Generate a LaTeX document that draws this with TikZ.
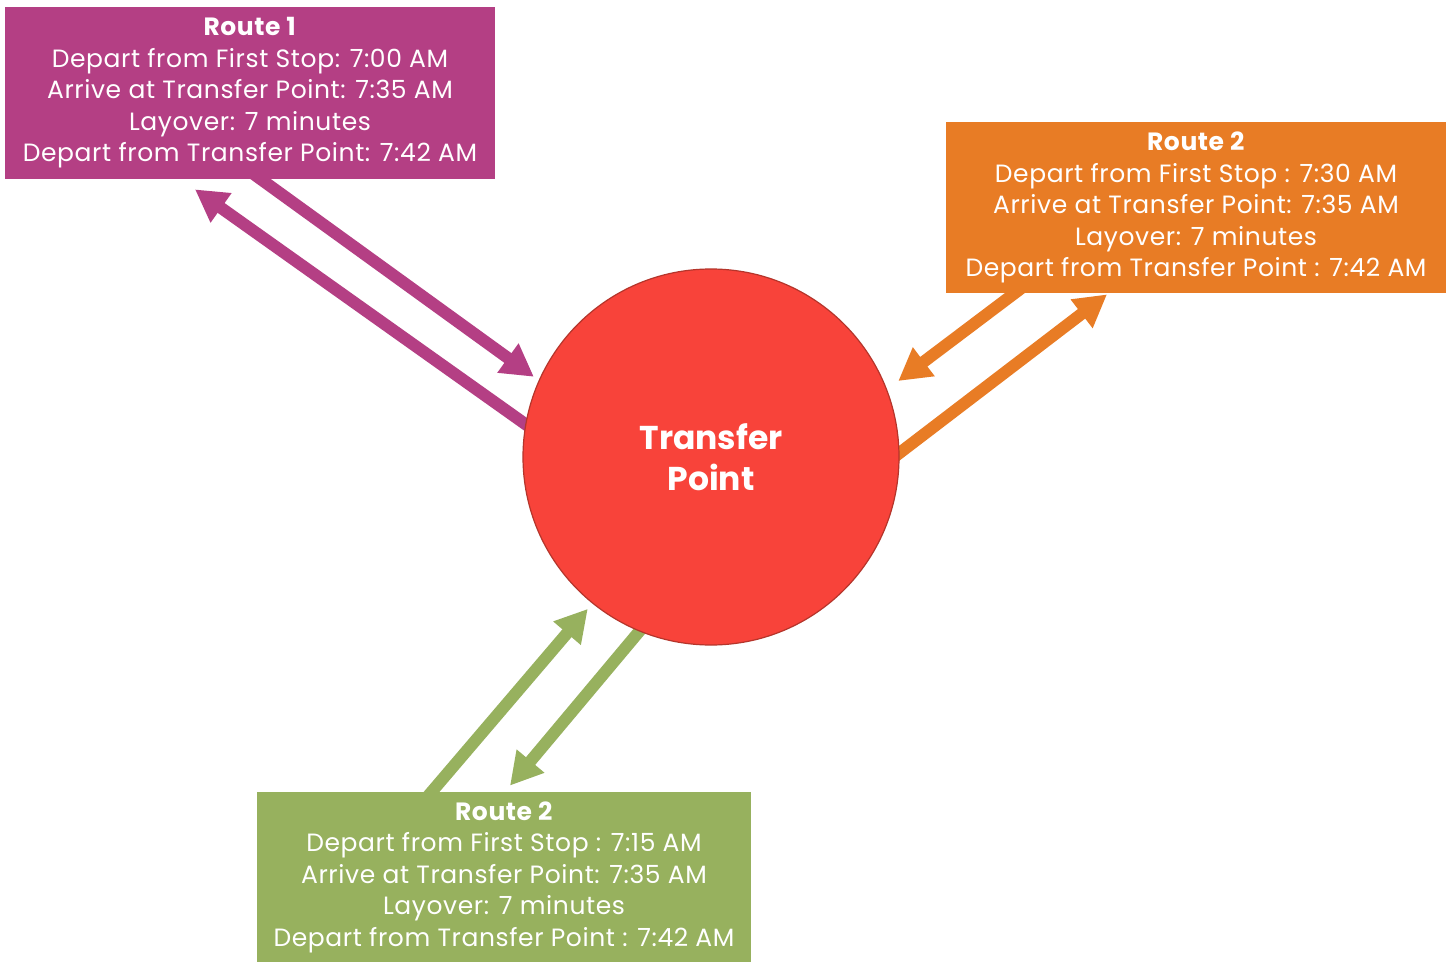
\documentclass[tikz,border=0pt]{standalone}
\usepackage{fontspec}
\setmainfont{Poppins}
\newfontfamily\routefont{Poppins}[LetterSpace=2.4]
\usetikzlibrary{arrows.meta,calc,backgrounds}
\definecolor{rtmagenta}{HTML}{B43F84}
\definecolor{rtorange}{HTML}{E87C25}
\definecolor{rtgreen}{HTML}{97B15E}
\definecolor{tpred}{HTML}{F8433A}
\definecolor{tpborder}{HTML}{B5352B}
\begin{document}
\begin{tikzpicture}[x=0.5pt, y=-0.5pt,
    routebox/.style={fill=#1, text=white, align=center, inner sep=0pt,
        font=\routefont\fontsize{12.5}{15.75}\selectfont},
    routearrow/.style={draw=#1, line width=6pt, -{Triangle[length=16pt, width=17pt]}}]
    \useasboundingbox (0,0) rectangle (1449,962);
    \node[routebox=rtmagenta, minimum width=245pt, minimum height=86pt] (route1) at (250,93)
        {\textbf{Route 1}\\Depart from First Stop: 7:00 AM\\Arrive at Transfer Point: 7:35 AM\\Layover: 7 minutes\\Depart from Transfer Point: 7:42 AM};
    \node[routebox=rtorange, minimum width=250pt, minimum height=85.5pt] (route2) at (1196,207.5)
        {\textbf{Route 2}\\Depart from First Stop : 7:30 AM\\Arrive at Transfer Point: 7:35 AM\\Layover: 7 minutes\\Depart from Transfer Point : 7:42 AM};
    \node[routebox=rtgreen, minimum width=247pt, minimum height=85pt] (route3) at (504,877)
        {\textbf{Route 2}\\Depart from First Stop : 7:15 AM\\Arrive at Transfer Point: 7:35 AM\\Layover: 7 minutes\\Depart from Transfer Point : 7:42 AM};
    \node[circle, fill=tpred, draw=tpborder, line width=0.6pt, minimum size=188pt, inner sep=0pt,
        text=white, align=center, font=\bfseries\fontsize{16.5}{20.5}\selectfont] (tp) at (711,457) {Transfer\\Point};
    \begin{scope}[on background layer]
        \fill[white] (0,0) rectangle (1449,962);
        \draw[routearrow=rtmagenta, shorten >=3pt] ($(route1.south)+(0,-8)$) -- (tp.156);
        \draw[routearrow=rtmagenta] ($(tp.center)!0.93!(tp.172)$) -- ($(route1.south)+(-55,10)$);
        \draw[routearrow=rtorange, shorten >=7pt] ($(route2.south)+(-171,-8)$) -- (tp.21);
        \draw[routearrow=rtorange] ($(tp.center)!0.93!(tp.-2)$) -- ($(route2.south)+(-89,1)$);
        \draw[routearrow=rtgreen, shorten >=3.5pt] ($(route3.north)+(-79,8)$) -- (tp.231);
        \draw[routearrow=rtgreen] ($(tp.center)!0.93!(tp.249)$) -- ($(route3.north)+(6,-6)$);
    \end{scope}
\end{tikzpicture}
\end{document}
